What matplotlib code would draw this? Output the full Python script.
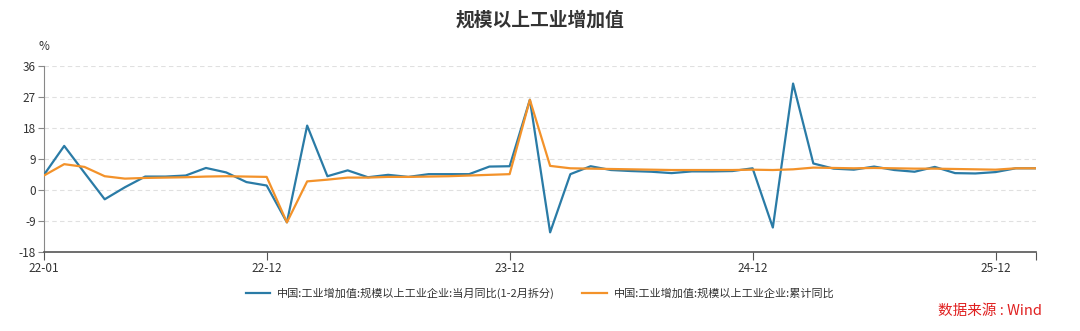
import matplotlib
matplotlib.use('Agg')
import matplotlib.pyplot as plt

plt.rcParams['font.family'] = ['Noto Sans CJK SC', 'DejaVu Sans']

months = ['22-01', '22-02', '22-03', '22-04', '22-05', '22-06', '22-07', '22-08', '22-09', '22-10', '22-11', '22-12',
          '23-01', '23-02', '23-03', '23-04', '23-05', '23-06', '23-07', '23-08', '23-09', '23-10', '23-11', '23-12',
          '24-01', '24-02', '24-03', '24-04', '24-05', '24-06', '24-07', '24-08', '24-09', '24-10', '24-11', '24-12',
          '25-01', '25-02', '25-03', '25-04', '25-05', '25-06', '25-07', '25-08', '25-09', '25-10', '25-11', '25-12',
          '26-01', '26-02']

# 当月同比(1-2月拆分)
monthly_yoy = [4.4, 12.8, 5.0, -2.7, 0.8, 3.9, 3.9, 4.2, 6.4, 5.1, 2.3, 1.3,
               -9.4, 18.7, 4.0, 5.7, 3.7, 4.4, 3.8, 4.6, 4.6, 4.6, 6.8, 6.9,
               26.2, -12.3, 4.6, 6.9, 5.8, 5.5, 5.3, 4.9, 5.4, 5.4, 5.5, 6.3,
               -10.9, 30.9, 7.7, 6.2, 5.9, 6.8, 5.8, 5.3, 6.7, 4.9, 4.8, 5.2,
               6.3, 6.3]

# 累计同比
cumulative_yoy = [4.2, 7.5, 6.7, 4.0, 3.3, 3.5, 3.6, 3.7, 3.9, 4.0, 3.9, 3.8,
                  -9.4, 2.5, 3.0, 3.6, 3.6, 3.8, 3.8, 3.9, 4.0, 4.2, 4.4, 4.6,
                  26.2, 7.0, 6.3, 6.2, 6.1, 6.0, 5.9, 5.8, 5.8, 5.8, 5.8, 5.9,
                  5.8, 6.0, 6.5, 6.4, 6.3, 6.4, 6.3, 6.2, 6.2, 6.1, 6.0, 5.9,
                  6.3, 6.3]

tick_labels = ['22-01', '22-12', '23-12', '24-12', '25-12']
y_ticks = [-18, -9, 0, 9, 18, 27, 36]

blue = '#2a7ba6'
orange = '#f3922a'

fig = plt.figure(figsize=(10.8, 3.31), dpi=100)
ax = fig.add_axes([0.0407, 0.2387, 0.9186, 0.5619])

x = list(range(len(months)))
ax.plot(x, monthly_yoy, color=blue, lw=1.6, label='中国:工业增加值:规模以上工业企业:当月同比(1-2月拆分)', zorder=3)
ax.plot(x, cumulative_yoy, color=orange, lw=1.6, label='中国:工业增加值:规模以上工业企业:累计同比', zorder=3)

ax.set_xlim(0, len(months) - 1)
ax.set_ylim(-18, 36)
ax.set_yticks(y_ticks)
ax.set_yticklabels([str(v) for v in y_ticks], fontsize=8.5, color='#333333')

tick_pos = [months.index(m) for m in tick_labels] + [len(months) - 1]
ax.set_xticks(tick_pos)
ax.set_xticklabels(tick_labels + [''], fontsize=8.5, color='#333333')

for v in y_ticks[1:]:
    ax.axhline(v, color='#e0e0e0', lw=0.8, ls=(0, (4, 3)), zorder=1)

for s in ['top', 'right']:
    ax.spines[s].set_visible(False)
ax.spines['left'].set_color('#888888')
ax.spines['bottom'].set_color('#555555')
ax.spines['bottom'].set_linewidth(1.2)
ax.tick_params(axis='y', length=4, color='#888888', pad=2)
ax.tick_params(axis='x', length=6, color='#555555', pad=1)

fig.text(0.5, 0.94, '规模以上工业增加值', ha='center', va='center', fontsize=13.5, fontweight='bold', color='#333333')
fig.text(0.041, 0.86, '%', ha='center', va='center', fontsize=8.5, color='#333333')

leg = fig.legend(loc='center', bbox_to_anchor=(0.5, 0.115), ncol=2, frameon=False, fontsize=8,
                 handlelength=2.2, columnspacing=2.5, handletextpad=0.6)
for t in leg.get_texts():
    t.set_color('#333333')

fig.text(0.965, 0.06, '数据来源 : Wind', ha='right', va='center', fontsize=10.5, color='#e02020')

fig.savefig('out.png', dpi=100)
